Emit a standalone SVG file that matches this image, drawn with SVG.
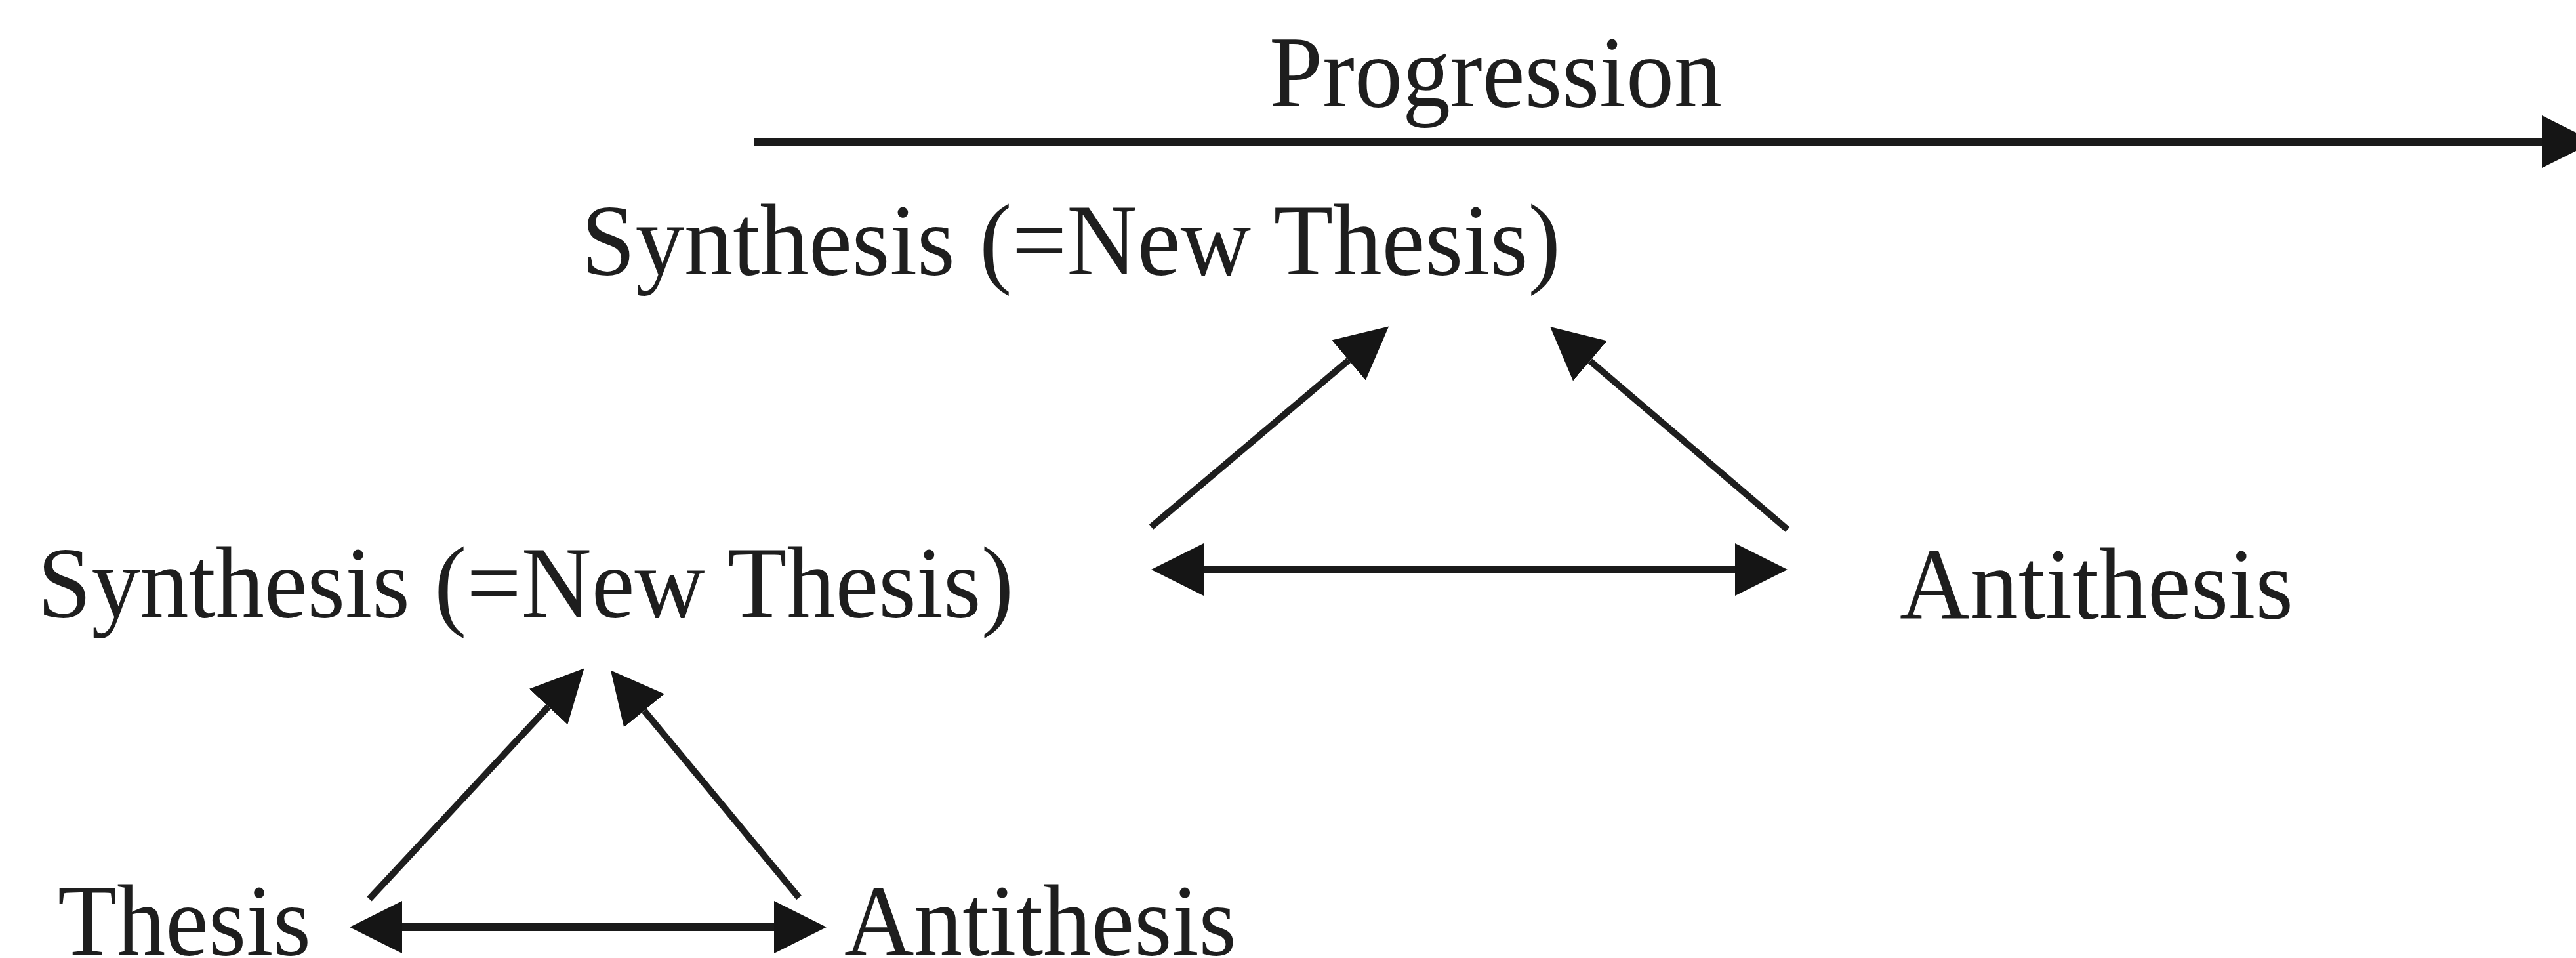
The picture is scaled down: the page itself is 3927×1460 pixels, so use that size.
<svg xmlns="http://www.w3.org/2000/svg" width="3927" height="1460" viewBox="0 0 3927 1460">
  <style>
    .lbl { font-family: "Liberation Serif", "Times New Roman", serif; font-size: 155px; fill: #1e1e1e; }
    .ln { stroke: #1a1a1a; stroke-width: 12; fill: none; }
    .dg { stroke: #1e1e1e; stroke-width: 10; fill: none; }
  </style>
  <defs>
    <marker id="ah" markerUnits="userSpaceOnUse" markerWidth="80" markerHeight="80" viewBox="0 -40 80 80" refX="0" refY="0" orient="auto-start-reverse">
      <path d="M0,-40 L80,0 L0,40 Z" fill="#151515"/>
    </marker>
  </defs>
  <rect width="3927" height="1460" fill="#ffffff"/>

  <g id="progression">
    <text class="lbl" x="1935" y="162" textLength="690" lengthAdjust="spacingAndGlyphs">Progression</text>
  </g>
  <g id="synthesis-upper">
    <text class="lbl" x="886" y="418" textLength="1493" lengthAdjust="spacingAndGlyphs">Synthesis (=New Thesis)</text>
  </g>
  <g id="synthesis-lower">
    <text class="lbl" x="57" y="940" textLength="1488" lengthAdjust="spacingAndGlyphs">Synthesis (=New Thesis)</text>
  </g>
  <g id="antithesis-upper">
    <text class="lbl" x="2896" y="942" textLength="600" lengthAdjust="spacingAndGlyphs">Antithesis</text>
  </g>
  <g id="thesis">
    <text class="lbl" x="88" y="1455" textLength="386" lengthAdjust="spacingAndGlyphs">Thesis</text>
  </g>
  <g id="antithesis-lower">
    <text class="lbl" x="1287" y="1455" textLength="598" lengthAdjust="spacingAndGlyphs">Antithesis</text>
  </g>

  <g id="connectors">
    <path class="ln" d="M1150,216 H3875" marker-end="url(#ah)"/>
    <path class="ln" d="M1835,868 H2645" marker-start="url(#ah)" marker-end="url(#ah)"/>
    <path class="ln" d="M613,1413 H1180" marker-start="url(#ah)" marker-end="url(#ah)"/>
    <path class="dg" d="M1755,803 L2056,549" marker-end="url(#ah)"/>
    <path class="dg" d="M2725,807 L2424,550" marker-end="url(#ah)"/>
    <path class="dg" d="M563,1370 L836,1077" marker-end="url(#ah)"/>
    <path class="dg" d="M1218,1368 L982,1083" marker-end="url(#ah)"/>
  </g>
</svg>
